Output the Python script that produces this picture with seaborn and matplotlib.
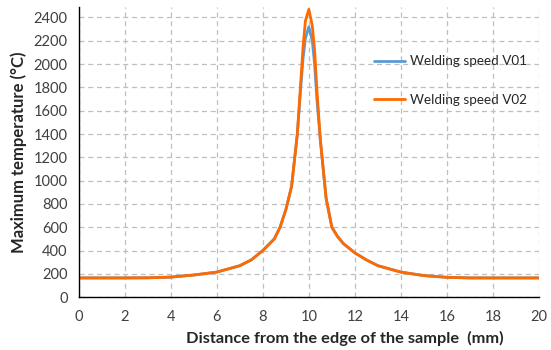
import matplotlib
matplotlib.use("Agg")
import matplotlib.pyplot as plt
import seaborn as sns
import pandas as pd

distance = [0, 1, 2, 3, 4, 5, 6, 7, 7.5, 8, 8.5, 8.75, 9, 9.25, 9.5, 9.65, 9.75, 9.85, 10,
            10.15, 10.25, 10.35, 10.5, 10.75, 11, 11.25, 11.5, 12, 12.5, 13, 14, 15, 16, 17, 18, 19, 20]
temp_v01 = [165, 165, 165, 166, 172, 190, 215, 270, 320, 400, 500, 600, 750, 950, 1400, 1800, 2050, 2220, 2320,
            2200, 2000, 1700, 1350, 850, 600, 520, 460, 380, 320, 270, 215, 185, 170, 165, 165, 165, 165]
temp_v02 = [165, 165, 165, 166, 172, 190, 215, 270, 320, 400, 500, 600, 750, 950, 1400, 1850, 2150, 2370, 2470,
            2330, 2120, 1780, 1350, 850, 600, 520, 460, 380, 320, 270, 215, 185, 170, 165, 165, 165, 165]
series_names = ["Welding speed V01", "Welding speed V02"]

df = pd.concat([
    pd.DataFrame({"x": distance, "y": temp_v01, "s": series_names[0]}),
    pd.DataFrame({"x": distance, "y": temp_v02, "s": series_names[1]}),
])

sns.set_style("white")
plt.rcParams["font.family"] = ["Lato", "DejaVu Sans"]

fig = plt.figure(figsize=(5.51, 3.5), dpi=100)
ax = fig.add_axes([0.143, 0.151, 0.835, 0.829])
sns.lineplot(data=df, x="x", y="y", hue="s", palette=["#5B9BD5", "#FF6A00"], linewidth=2.0, ax=ax, sort=False)

ax.set_xlim(0, 20)
ax.set_ylim(0, 2490)
ax.set_xticks(range(0, 21, 2))
ax.set_yticks(range(0, 2401, 200))
ax.grid(True, color="#BFBFBF", linestyle=(0, (4, 3)), linewidth=0.9)
for s in ["top", "right"]:
    ax.spines[s].set_visible(False)
for s in ["left", "bottom"]:
    ax.spines[s].set_color("black")
    ax.spines[s].set_linewidth(1.0)
ax.tick_params(axis="both", length=0, labelsize=10.5, colors="#404040")
ax.tick_params(axis="x", pad=9)
ax.tick_params(axis="y", pad=8)
ax.set_xlabel("Distance from the edge of the sample  (mm)", fontsize=11.8, fontweight="bold")
ax.xaxis.set_label_coords(0.578, -0.115)
ax.set_ylabel("Maximum temperature (°C)", fontsize=12, fontweight="bold", labelpad=5)

leg = ax.legend(loc="upper left", bbox_to_anchor=(0.615, 0.875), frameon=False, fontsize=9.7,
                handlelength=2.3, handletextpad=0.35, labelspacing=1.95, title=None)

fig.savefig("out.png", dpi=100)
